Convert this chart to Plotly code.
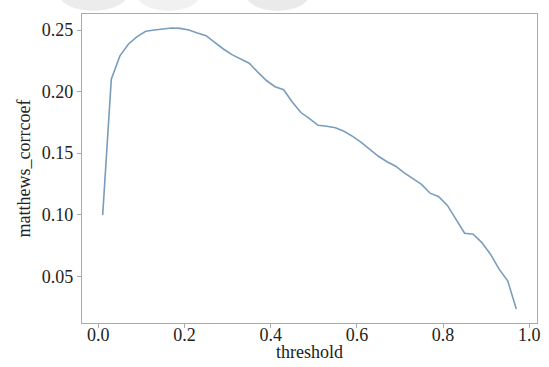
import plotly.graph_objects as go

threshold = [0.01, 0.03, 0.05, 0.07, 0.09, 0.11, 0.13, 0.15, 0.17, 0.19,
             0.21, 0.23, 0.25, 0.27, 0.29, 0.31, 0.33, 0.35, 0.37, 0.39,
             0.41, 0.43, 0.45, 0.47, 0.49, 0.51, 0.53, 0.55, 0.57, 0.59,
             0.61, 0.63, 0.65, 0.67, 0.69, 0.71, 0.73, 0.75, 0.77, 0.79,
             0.81, 0.83, 0.85, 0.87, 0.89, 0.91, 0.93, 0.95, 0.97]
mcc = [0.0997, 0.2100, 0.2290, 0.2387, 0.2446, 0.2490, 0.2500, 0.2510, 0.2516, 0.2513,
       0.2500, 0.2476, 0.2454, 0.2400, 0.2346, 0.2300, 0.2265, 0.2230, 0.2158, 0.2090,
       0.2040, 0.2015, 0.1915, 0.1830, 0.1780, 0.1726, 0.1718, 0.1707, 0.1678, 0.1637,
       0.1588, 0.1535, 0.1475, 0.1430, 0.1394, 0.1340, 0.1295, 0.1246, 0.1175, 0.1146,
       0.1076, 0.0963, 0.0850, 0.0842, 0.0774, 0.0680, 0.0558, 0.0464, 0.0235]

x_ticks = [0.0, 0.2, 0.4, 0.6, 0.8, 1.0]
y_ticks = [0.05, 0.10, 0.15, 0.20, 0.25]

FONT = "Liberation Serif, Times New Roman, DejaVu Serif, serif"

fig = go.Figure()
fig.add_trace(go.Scatter(x=threshold, y=mcc, mode="lines",
                         line=dict(color="#7a9cbd", width=1.6), showlegend=False))

# faint photo strip at the top of the image
for (x0, x1, c) in [(-0.05, 0.10, "rgba(150,150,150,0.18)"), (0.12, 0.26, "rgba(160,160,160,0.15)"),
                    (0.36, 0.50, "rgba(140,140,140,0.18)")]:
    fig.add_shape(type="circle", xref="paper", yref="paper", x0=x0, x1=x1,
                  y0=1.01, y1=1.12, line=dict(width=0), fillcolor=c, layer="below")

axis_common = dict(showline=True, linecolor="#aaaaaa", linewidth=1.2, mirror=True,
                   showgrid=False, zeroline=False, ticks="outside", ticklen=4,
                   tickcolor="#aaaaaa", tickwidth=1, automargin=False,
                   tickfont=dict(family=FONT, size=18, color="#222"))

x0, x1 = min(threshold), max(threshold)
y0, y1 = min(mcc), max(mcc)
xp = 0.05 * (x1 - x0)
yp = 0.05 * (y1 - y0)

fig.update_xaxes(range=[x0 - xp, x1 + xp], tickvals=x_ticks, tickformat=".1f",
                 ticklabelstandoff=-9, **axis_common)
fig.update_yaxes(range=[y0 - yp, y1 + yp], tickvals=y_ticks, tickformat=".2f",
                 title=dict(text="matthews_corrcoef", standoff=6,
                            font=dict(family=FONT, size=18, color="#222")),
                 **axis_common)

fig.add_annotation(text="threshold", xref="paper", yref="paper", x=0.5, y=0,
                   xanchor="center", yanchor="middle", yshift=-29, showarrow=False,
                   font=dict(family=FONT, size=18, color="#222"))

fig.update_layout(width=549, height=367, margin=dict(l=82, r=12, t=14, b=44),
                  paper_bgcolor="white", plot_bgcolor="white")

fig.write_html("out.html", config={"displayModeBar": False},
               post_script="document.body.style.margin='0';document.body.style.padding='0';")
